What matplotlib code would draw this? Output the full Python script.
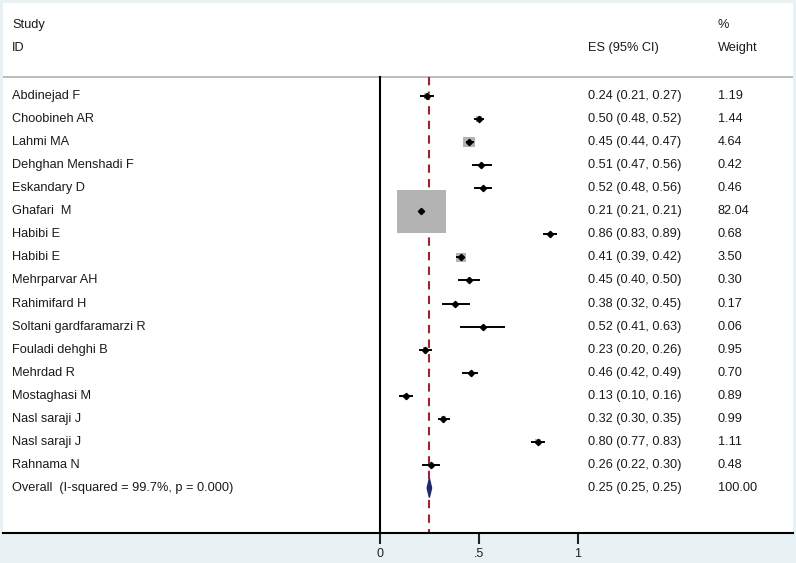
import numpy as np
import matplotlib.pyplot as plt
from matplotlib.patches import Rectangle, Polygon

plt.rcParams['font.family'] = ['Liberation Sans', 'DejaVu Sans']

studies = ['Abdinejad F', 'Choobineh AR', 'Lahmi MA', 'Dehghan Menshadi F',
           'Eskandary D', 'Ghafari  M', 'Habibi E', 'Habibi E', 'Mehrparvar AH',
           'Rahimifard H', 'Soltani gardfaramarzi R', 'Fouladi dehghi B',
           'Mehrdad R', 'Mostaghasi M', 'Nasl saraji J', 'Nasl saraji J',
           'Rahnama N']
es = [0.24, 0.50, 0.45, 0.51, 0.52, 0.21, 0.86, 0.41, 0.45, 0.38, 0.52,
      0.23, 0.46, 0.13, 0.32, 0.80, 0.26]
lo = [0.21, 0.48, 0.44, 0.47, 0.48, 0.21, 0.83, 0.39, 0.40, 0.32, 0.41,
      0.20, 0.42, 0.10, 0.30, 0.77, 0.22]
hi = [0.27, 0.52, 0.47, 0.56, 0.56, 0.21, 0.89, 0.42, 0.50, 0.45, 0.63,
      0.26, 0.49, 0.16, 0.35, 0.83, 0.30]
weights = [1.19, 1.44, 4.64, 0.42, 0.46, 82.04, 0.68, 3.50, 0.30, 0.17, 0.06,
           0.95, 0.70, 0.89, 0.99, 1.11, 0.48]
overall_label = 'Overall  (I-squared = 99.7%, p = 0.000)'
overall_es, overall_lo, overall_hi = 0.25, 0.25, 0.25
overall_weight = 100.00
xticks = [0, 0.5, 1]
xticklabels = ['0', '.5', '1']

W, H = 796, 563
fig = plt.figure(figsize=(W / 100, H / 100), dpi=100)
fig.patch.set_facecolor('#e8f1f4')

# panel in pixel terms
px_l, px_r, px_t, px_b = 3, 793, 3, 533
ax = fig.add_axes([px_l / W, 1 - px_b / H, (px_r - px_l) / W, (px_b - px_t) / H])
ax.set_facecolor('white')

sx = 197.5            # px per unit on x
x0 = 380              # pixel of x = 0
row0, dy = 96, 23.06  # pixel of first row, row spacing
ax.set_xlim((px_l - x0) / sx, (px_r - x0) / sx)
ax.set_ylim((px_b - row0) / dy, (px_t - row0) / dy)

for s in ['top', 'right', 'left']:
    ax.spines[s].set_visible(False)
ax.spines['bottom'].set_linewidth(1.5)
ax.set_yticks([])
ax.set_xticks(xticks)
ax.set_xticklabels(xticklabels, fontsize=9)
ax.tick_params(axis='x', length=8, width=1.5, pad=3, colors='#222222')

xt = lambda p: (p - x0) / sx
ry = lambda p: (p - row0) / dy

top_row = ry(77)
ybot = ry(px_b)
ax.axhline(top_row, color='#b0b0b0', lw=1.2)
ax.plot([0, 0], [top_row, ybot], color='black', lw=1.5)
ax.plot([overall_es, overall_es], [top_row, ybot], color='#a3202e', lw=1.5,
        dashes=(4, 3))

fs = 9.2
tc = '#1a1a1a'
ax.text(xt(12), ry(25), 'Study', fontsize=fs, color=tc, va='center')
ax.text(xt(12), ry(48), 'ID', fontsize=fs, color=tc, va='center')
ax.text(xt(588), ry(48), 'ES (95% CI)', fontsize=fs, color=tc, va='center')
ax.text(xt(718), ry(25), '%', fontsize=fs, color=tc, va='center')
ax.text(xt(718), ry(48), 'Weight', fontsize=fs, color=tc, va='center')

bw, bh = 49, 43   # box size in px for the largest weight
wmax = max(weights)
for i in range(len(studies)):
    f = np.sqrt(weights[i] / wmax)
    w = bw * f / sx
    h = bh * f / dy
    ax.add_patch(Rectangle((es[i] - w / 2, i - h / 2), w, h,
                           facecolor='#b3b3b3', edgecolor='none', zorder=2))
    ax.plot([lo[i], hi[i]], [i, i], color='black', lw=1.4, zorder=3)
    ax.plot(es[i], i, marker='D', color='black', markersize=3.2, zorder=4)
    ax.text(xt(12), i, studies[i], fontsize=fs, color=tc, va='center')
    ax.text(xt(588), i, '%.2f (%.2f, %.2f)' % (es[i], lo[i], hi[i]),
            fontsize=fs, color=tc, va='center')
    ax.text(xt(718), i, '%.2f' % weights[i], fontsize=fs, color=tc, va='center')

k = len(studies)
hw = 2.2 / sx
hh = 9.5 / dy
ax.add_patch(Polygon([(overall_lo - hw, k), (overall_es, k - hh),
                      (overall_hi + hw, k), (overall_es, k + hh)],
                     closed=True, facecolor='#1f2a6b', edgecolor='#1f2a6b',
                     zorder=5))
ax.text(xt(12), k, overall_label, fontsize=fs, color=tc, va='center')
ax.text(xt(588), k, '%.2f (%.2f, %.2f)' % (overall_es, overall_lo, overall_hi),
        fontsize=fs, color=tc, va='center')
ax.text(xt(718), k, '%.2f' % overall_weight, fontsize=fs, color=tc, va='center')

fig.savefig('out.png', dpi=100, facecolor=fig.get_facecolor())
